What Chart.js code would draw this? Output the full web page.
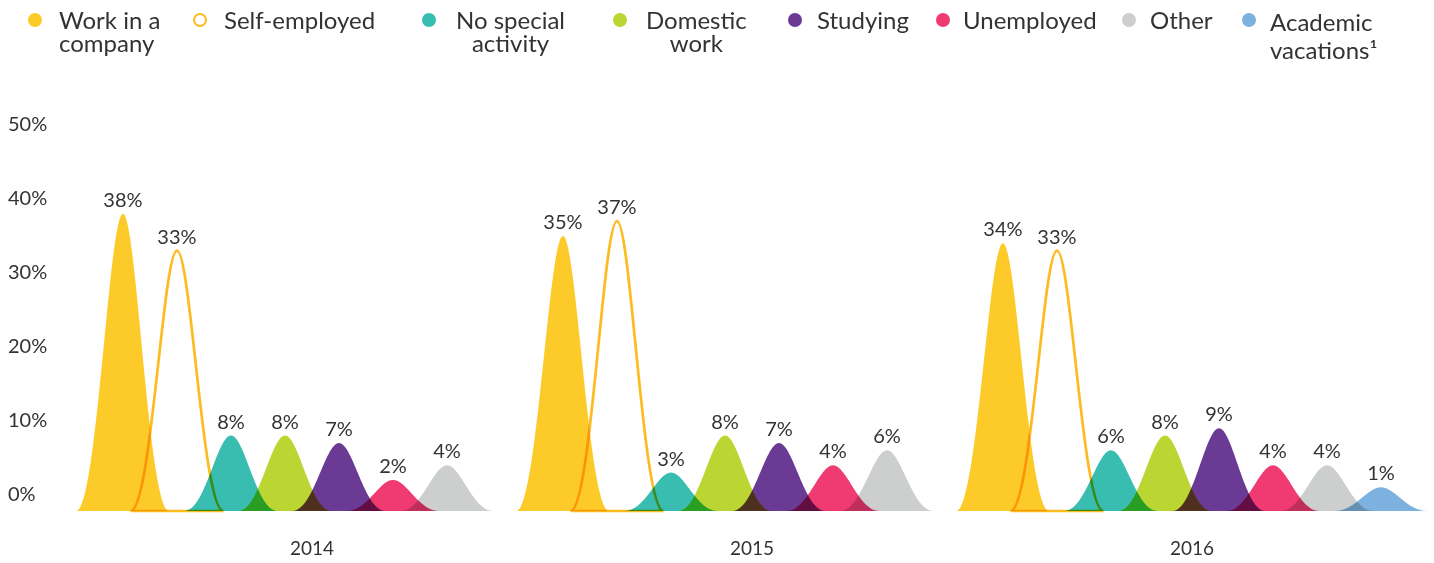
<!DOCTYPE html>
<html>
<head>
<meta charset="utf-8">
<script src="https://cdn.jsdelivr.net/npm/chart.js@4.4.0/dist/chart.umd.min.js"></script>
<style>
  html, body { margin: 0; padding: 0; background: #fff; }
  #wrap { position: relative; width: 1434px; height: 563px; }
  #chart { position: absolute; left: 0; top: 0; }
  #legend { position: absolute; left: 0; top: 0; width: 1434px; height: 70px;
            font-family: Lato, sans-serif; font-size: 24px; color: #333; }
  .dot { position: absolute; width: 14px; height: 14px; border-radius: 50%; box-sizing: border-box; }
  .txt { position: absolute; white-space: nowrap; line-height: 23px; }
</style>
</head>
<body>
<div id="wrap">
  <canvas id="chart" width="1434" height="563"></canvas>
  <div id="legend"></div>
</div>
<script>
// data
const years = ['2014', '2015', '2016'];
const seriesNames = ['Work in a company', 'Self-employed', 'No special activity', 'Domestic work',
                     'Studying', 'Unemployed', 'Other', 'Academic vacations¹'];
const legendLines = [['Work in a', 'company'], ['Self-employed'], ['No special', 'activity'], ['Domestic', 'work'],
                     ['Studying'], ['Unemployed'], ['Other'], ['Academic', 'vacations¹']];
const workInCompany     = [38, 35, 34];
const selfEmployed      = [33, 37, 33];
const noSpecialActivity = [8, 3, 6];
const domesticWork      = [8, 8, 8];
const studying          = [7, 7, 9];
const unemployed        = [2, 4, 4];
const other             = [4, 6, 4];
const academicVacations = [null, null, 1];
const seriesValues = [workInCompany, selfEmployed, noSpecialActivity, domesticWork,
                      studying, unemployed, other, academicVacations];
const yTicks = [0, 10, 20, 30, 40, 50];

const colors = ['#FDCB29', '#FDBB1F', '#38BDB0', '#BBD532', '#6A3A94', '#EF3A72', '#CDCFCE', '#7DB2E0'];

// legend (html, placed like the original)
const legendDotX  = [35, 200, 429, 620, 795, 943, 1129, 1249];
const legendTextX = [59, 224, 456, 646, 817, 963, 1150, 1270];
const legendAlign = ['left', 'left', 'center', 'center', 'left', 'left', 'left', 'left'];
const legendLineH = [23, 23, 23, 23, 23, 23, 23, 28];

function BuildLegend() {
    const box = document.getElementById('legend');
    for (let i = 0; i < seriesNames.length; i++) {
        const dot = document.createElement('div');
        dot.className = 'dot';
        dot.style.left = (legendDotX[i] - 7) + 'px';
        dot.style.top = (20 - 7) + 'px';
        if (i == 1) {
            dot.style.border = '2px solid ' + colors[i];
        } else {
            dot.style.background = colors[i];
        }
        box.appendChild(dot);

        const txt = document.createElement('div');
        txt.className = 'txt';
        txt.style.left = legendTextX[i] + 'px';
        txt.style.top = (20 - 12) + 'px';
        txt.style.textAlign = legendAlign[i];
        txt.style.lineHeight = legendLineH[i] + 'px';
        txt.innerHTML = legendLines[i].join('<br>');
        box.appendChild(txt);
    }
}

// draws each value as a bell shaped peak on top of the (hidden) bar positions
const peakPlugin = {
    id: 'peaks',
    beforeDatasetDraw(chart, args) {
        const ctx = chart.ctx;
        const ds = chart.data.datasets[args.index];
        const base = chart.scales.y.bottom;
        ctx.save();
        ctx.globalCompositeOperation = 'multiply';
        args.meta.data.forEach((el, i) => {
            if (ds.data[i] == null) return;
            const cx = el.x;
            const top = el.y;
            const hw = el.width * 0.86;
            ctx.beginPath();
            ctx.moveTo(cx - hw, base);
            ctx.bezierCurveTo(cx - hw * 0.55, base, cx - hw * 0.3, top, cx, top);
            ctx.bezierCurveTo(cx + hw * 0.3, top, cx + hw * 0.55, base, cx + hw, base);
            ctx.closePath();
            if (ds.outline) {
                ctx.lineWidth = 2.7;
                ctx.lineJoin = 'miter';
                ctx.strokeStyle = ds.borderColor;
                ctx.stroke();
            } else {
                ctx.fillStyle = ds.backgroundColor;
                ctx.fill();
            }
        });
        ctx.restore();
        return false;
    },
    afterDatasetsDraw(chart) {
        const ctx = chart.ctx;
        ctx.save();
        ctx.font = '20px Lato, sans-serif';
        ctx.fillStyle = '#333';
        ctx.textAlign = 'center';
        ctx.textBaseline = 'alphabetic';
        chart.data.datasets.forEach((ds, d) => {
            chart.getDatasetMeta(d).data.forEach((el, i) => {
                if (ds.data[i] == null) return;
                ctx.fillText(ds.data[i] + '%', el.x, el.y - 7);
            });
        });
        ctx.restore();
    }
};

function CreateChart() {
    Chart.defaults.font.family = 'Lato, sans-serif';
    Chart.defaults.font.size = 20;
    Chart.defaults.color = '#333';

    const datasets = seriesNames.map((name, i) => ({
        label: name,
        data: seriesValues[i],
        backgroundColor: colors[i],
        borderColor: colors[i],
        outline: i == 1
    }));

    const config = {
        type: 'bar',
        data: { labels: years, datasets: datasets },
        options: {
            responsive: false,
            animation: false,
            layout: { padding: { top: 125, left: 8, right: 22, bottom: 0 } },
            datasets: { bar: { categoryPercentage: 0.982, barPercentage: 1 } },
            plugins: { legend: { display: false }, tooltip: { enabled: false } },
            scales: {
                x: {
                    grid: { display: false },
                    border: { display: false },
                    ticks: { padding: 18, font: { size: 19 } },
                    afterFit: (scale) => { scale.height = 52; }
                },
                y: {
                    min: -2.2,
                    max: 50,
                    grid: { display: false },
                    border: { display: false },
                    ticks: {
                        stepSize: 10,
                        includeBounds: false,
                        crossAlign: 'far',
                        callback: (v) => yTicks.includes(v) ? v + '%' : ''
                    },
                    afterFit: (scale) => { scale.width = 84; }
                }
            }
        },
        plugins: [peakPlugin]
    };

    window.chart = new Chart(document.getElementById('chart').getContext('2d'), config);
}

BuildLegend();
CreateChart();
</script>
</body>
</html>
